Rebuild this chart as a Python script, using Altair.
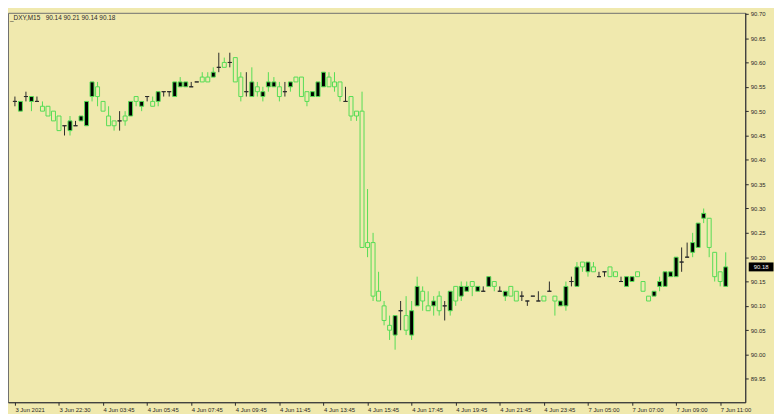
import altair as alt
import pandas as pd

# ---- data ----
tick_labels = ["3 Jun 2021", "3 Jun 22:30", "4 Jun 03:45", "4 Jun 05:45", "4 Jun 07:45",
               "4 Jun 09:45", "4 Jun 11:45", "4 Jun 13:45", "4 Jun 15:45", "4 Jun 17:45",
               "4 Jun 19:45", "4 Jun 21:45", "4 Jun 23:45", "7 Jun 05:00", "7 Jun 07:00",
               "7 Jun 09:00", "7 Jun 11:00"]

opens = [90.52, 90.50, 90.53, 90.52, 90.52, 90.51, 90.51, 90.50, 90.49, 90.47,
         90.46, 90.47, 90.48, 90.47, 90.53, 90.55, 90.52, 90.49, 90.48, 90.48,
         90.49, 90.49, 90.53, 90.51, 90.53, 90.52, 90.52, 90.54, 90.54, 90.53,
         90.55, 90.55, 90.55, 90.56, 90.57, 90.57, 90.57, 90.59, 90.60, 90.60,
         90.61, 90.57, 90.54, 90.53, 90.55, 90.53, 90.55, 90.55, 90.55, 90.54,
         90.55, 90.57, 90.57, 90.54, 90.53, 90.53, 90.55, 90.57, 90.56, 90.56,
         90.52, 90.53, 90.50, 90.50, 90.23, 90.23, 90.13, 90.10, 90.06, 90.04,
         90.09, 90.08, 90.04, 90.10, 90.13, 90.10, 90.10, 90.12, 90.10, 90.09,
         90.14, 90.12, 90.13, 90.15, 90.13, 90.13, 90.14, 90.15, 90.13, 90.12,
         90.14, 90.13, 90.12, 90.11, 90.12, 90.11, 90.12, 90.13, 90.12, 90.10,
         90.10, 90.15, 90.14, 90.19, 90.17, 90.18, 90.16, 90.17, 90.18, 90.17,
         90.15, 90.14, 90.15, 90.17, 90.15, 90.12, 90.12, 90.14, 90.14, 90.16,
         90.16, 90.19, 90.20, 90.21, 90.22, 90.28, 90.28, 90.21, 90.17, 90.14]
highs = [90.53, 90.52, 90.54, 90.53, 90.53, 90.52, 90.51, 90.50, 90.49, 90.47,
         90.49, 90.48, 90.49, 90.52, 90.56, 90.56, 90.52, 90.51, 90.48, 90.50,
         90.50, 90.52, 90.53, 90.52, 90.53, 90.53, 90.54, 90.54, 90.54, 90.56,
         90.57, 90.56, 90.56, 90.56, 90.58, 90.58, 90.59, 90.62, 90.61, 90.62,
         90.61, 90.58, 90.58, 90.59, 90.56, 90.55, 90.58, 90.57, 90.56, 90.56,
         90.56, 90.57, 90.57, 90.54, 90.54, 90.56, 90.58, 90.58, 90.58, 90.56,
         90.55, 90.53, 90.50, 90.54, 90.34, 90.25, 90.17, 90.11, 90.08, 90.08,
         90.11, 90.12, 90.11, 90.16, 90.14, 90.13, 90.12, 90.13, 90.11, 90.13,
         90.14, 90.15, 90.15, 90.15, 90.14, 90.14, 90.16, 90.15, 90.14, 90.13,
         90.14, 90.13, 90.13, 90.11, 90.12, 90.13, 90.12, 90.15, 90.12, 90.11,
         90.15, 90.16, 90.19, 90.19, 90.19, 90.19, 90.17, 90.17, 90.18, 90.17,
         90.16, 90.16, 90.16, 90.17, 90.15, 90.12, 90.13, 90.16, 90.17, 90.17,
         90.20, 90.22, 90.23, 90.25, 90.27, 90.30, 90.28, 90.21, 90.17, 90.21]
lows = [90.51, 90.50, 90.52, 90.50, 90.52, 90.50, 90.49, 90.48, 90.46, 90.45,
        90.45, 90.47, 90.48, 90.47, 90.52, 90.51, 90.50, 90.47, 90.46, 90.46,
        90.47, 90.49, 90.51, 90.50, 90.52, 90.51, 90.51, 90.53, 90.53, 90.53,
        90.55, 90.55, 90.55, 90.56, 90.56, 90.56, 90.57, 90.58, 90.59, 90.59,
        90.56, 90.52, 90.53, 90.53, 90.53, 90.52, 90.54, 90.55, 90.52, 90.53,
        90.54, 90.56, 90.53, 90.51, 90.53, 90.53, 90.55, 90.55, 90.54, 90.52,
        90.52, 90.48, 90.48, 90.22, 90.20, 90.11, 90.11, 90.06, 90.03, 90.01,
        90.05, 90.04, 90.03, 90.10, 90.09, 90.09, 90.08, 90.08, 90.07, 90.08,
        90.10, 90.11, 90.13, 90.12, 90.13, 90.13, 90.14, 90.13, 90.13, 90.11,
        90.12, 90.11, 90.11, 90.10, 90.12, 90.11, 90.11, 90.13, 90.08, 90.10,
        90.09, 90.14, 90.14, 90.17, 90.16, 90.17, 90.16, 90.16, 90.16, 90.16,
        90.15, 90.14, 90.15, 90.16, 90.13, 90.11, 90.12, 90.13, 90.14, 90.16,
        90.16, 90.17, 90.20, 90.20, 90.22, 90.27, 90.20, 90.15, 90.14, 90.14]
closes = [90.52, 90.52, 90.53, 90.53, 90.52, 90.50, 90.49, 90.48, 90.46, 90.47,
          90.48, 90.47, 90.49, 90.52, 90.56, 90.53, 90.50, 90.47, 90.47, 90.48,
          90.48, 90.52, 90.52, 90.52, 90.53, 90.51, 90.54, 90.54, 90.54, 90.56,
          90.56, 90.56, 90.55, 90.56, 90.56, 90.56, 90.58, 90.59, 90.59, 90.60,
          90.56, 90.53, 90.54, 90.56, 90.54, 90.54, 90.56, 90.56, 90.53, 90.54,
          90.56, 90.56, 90.53, 90.52, 90.54, 90.56, 90.58, 90.55, 90.55, 90.53,
          90.52, 90.49, 90.49, 90.22, 90.22, 90.12, 90.11, 90.07, 90.05, 90.08,
          90.09, 90.05, 90.09, 90.14, 90.11, 90.09, 90.11, 90.09, 90.10, 90.13,
          90.11, 90.14, 90.14, 90.14, 90.14, 90.13, 90.16, 90.14, 90.13, 90.13,
          90.12, 90.11, 90.12, 90.11, 90.12, 90.11, 90.11, 90.13, 90.11, 90.11,
          90.14, 90.15, 90.18, 90.18, 90.19, 90.17, 90.16, 90.17, 90.16, 90.16,
          90.15, 90.16, 90.16, 90.16, 90.13, 90.11, 90.13, 90.15, 90.17, 90.17,
          90.20, 90.19, 90.20, 90.23, 90.27, 90.29, 90.22, 90.16, 90.15, 90.18]

symbol = "_DXY,M15"
price_ticks = [round(89.95 + 0.05 * k, 2) for k in range(16)]

# ---- table ----
df = pd.DataFrame({"i": list(range(len(opens))), "open": opens, "high": highs,
                   "low": lows, "close": closes})
df["dir"] = ["up" if c > o else ("down" if c < o else "doji") for o, c in zip(opens, closes)]

W, H = 744, 393
BG = "#F0E9AE"
GREEN = "#55DD55"
DARK = "#2A2A2A"
FONT = "Liberation Sans"

label_expr = "[" + ",".join("'" + s + "'" for s in tick_labels) + "][round(datum.value/8)]"

xscale = alt.Scale(domain=[-0.355, 131.65], nice=False, zero=False)
yscale = alt.Scale(domain=[89.902, 90.702], nice=False, zero=False)

x_axis = alt.Axis(values=[8 * k for k in range(len(tick_labels))], labelExpr=label_expr,
                  labelAlign="left", labelBaseline="top", labelPadding=1, tickSize=3,
                  grid=False, title=None, labelFontSize=6, labelFont=FONT,
                  labelColor=DARK, domainColor=DARK, tickColor=DARK,
                  labelOverlap=False, labelBound=False, labelFlush=False)
y_axis = alt.Axis(orient="right", values=price_ticks, format=".2f", tickSize=3,
                  labelPadding=2, grid=False, title=None, labelFontSize=6,
                  labelFont=FONT, labelColor=DARK, domainColor=DARK, tickColor=DARK,
                  labelOverlap=False, labelBound=False, labelFlush=False)

X = alt.X("i:Q", scale=xscale, axis=x_axis)
dirs = ["up", "down", "doji"]
line_col = alt.Scale(domain=dirs, range=[GREEN, GREEN, DARK])
fill_col = alt.Scale(domain=dirs, range=["#000000", BG, DARK])

base = alt.Chart(df)

wicks = base.mark_rule(strokeWidth=1).encode(
    x=X,
    y=alt.Y("low:Q", scale=yscale, axis=y_axis),
    y2="high:Q",
    color=alt.Color("dir:N", scale=line_col, legend=None),
)

bodies = base.mark_bar(size=4, strokeWidth=1).encode(
    x=X,
    y=alt.Y("open:Q", scale=yscale, axis=y_axis),
    y2="close:Q",
    fill=alt.Fill("dir:N", scale=fill_col, legend=None),
    stroke=alt.Stroke("dir:N", scale=line_col, legend=None),
)

last = df.tail(1).copy()
last["txt"] = [f"{c:.2f}" for c in last["close"]]

price_box = alt.Chart(last).mark_tick(color="#000000", size=25, thickness=9,
                                      orient="horizontal", opacity=1).encode(
    x=alt.value(W + 16),
    y=alt.Y("close:Q", scale=yscale, axis=y_axis),
)
price_txt = alt.Chart(last).mark_text(color="#F0F0F0", fontSize=6, font=FONT,
                                      align="center", baseline="middle").encode(
    x=alt.value(W + 16),
    y=alt.Y("close:Q", scale=yscale, axis=y_axis),
    text="txt:N",
)

hdr = pd.DataFrame({"t": [symbol + "\u00a0\u00a0 " + " ".join(f"{v:.2f}" for v in
                                                   (opens[-1], highs[-1], lows[-1], closes[-1]))]})
header = alt.Chart(hdr).mark_text(align="left", baseline="middle", fontSize=6.5,
                                  font=FONT, color=DARK).encode(
    x=alt.value(2), y=alt.value(5), text="t:N")

chart = alt.layer(wicks, bodies, price_box, price_txt, header).properties(
    width=W, height=H, padding={"left": 0, "top": 0, "right": 0, "bottom": 0},
    background=BG,
).configure_view(fill=BG, stroke="#6E6E6E", strokeWidth=1)

chart.save("out.html", embed_options={"renderer": "svg", "actions": False})
